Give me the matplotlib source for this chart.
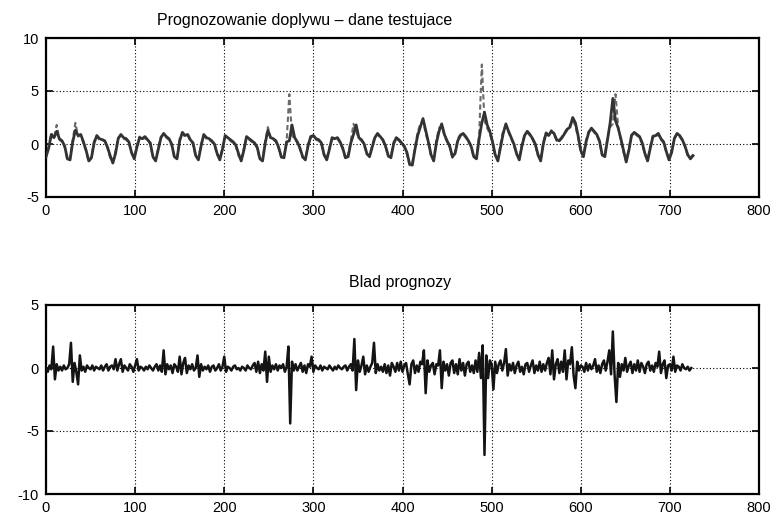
import numpy as np
import matplotlib
matplotlib.use("Agg")
import matplotlib.pyplot as plt

plt.rcParams['font.family'] = ['Liberation Sans', 'DejaVu Sans']
plt.rcParams['axes.unicode_minus'] = False

title_top = "Prognozowanie doplywu \u2013 dane testujace"
title_bottom = "Blad prognozy"

x_ticks = [0, 100, 200, 300, 400, 500, 600, 700, 800]
y_ticks_top = [-5, 0, 5, 10]
y_ticks_bottom = [-10, -5, 0, 5]

# top panel, sampled every 3 steps (x = 0, 3, ..., 726)
step_top = 3
prognoza = [
    -1.2, -0.4, 0.9, 0.6, 1.2, 0.5, 0.3, -0.2,
    -1.4, -1.5, 0.2, 1.3, 0.8, 0.9, 0.2, -0.6,
    -1.6, -1.3, 0.1, 0.8, 0.5, 0.4, 0.3, -0.3,
    -1.1, -1.8, -0.9, 0.5, 0.9, 0.6, 0.5, 0.2,
    -0.8, -1.4, -0.3, 0.6, 0.5, 0.7, 0.4, 0.1,
    -1.2, -1.6, -0.5, 0.6, 1.0, 0.7, 0.5, 0.0,
    -1.2, -1.4, 0.3, 1.1, 0.8, 0.9, 0.4, 0.1,
    -1.1, -1.5, -0.2, 0.9, 0.6, 0.5, 0.3, 0.0,
    -0.9, -1.5, -0.5, 0.8, 0.6, 0.4, 0.2, -0.1,
    -0.9, -1.6, -0.6, 0.7, 0.5, 0.3, 0.1, -0.3,
    -1.4, -1.6, 0.1, 1.3, 0.6, 0.5, 0.3, -0.3,
    -1.2, -1.3, 0.2, 0.3, 1.8, 0.6, 0.2, -0.4,
    -1.2, -1.5, -0.2, 0.7, 0.8, 0.5, 0.4, 0.1,
    -1.0, -1.5, -0.5, 0.6, 0.5, 0.6, 0.2, -0.4,
    -1.3, -1.2, 0.1, 0.9, 1.8, 0.6, 0.4, 0.0,
    -0.9, -1.2, -0.3, 0.6, 1.0, 0.7, 0.4, -0.2,
    -1.1, -1.3, 0.0, 0.6, 0.4, 0.1, -0.2, -0.8,
    -1.9, -2.0, -0.5, 0.8, 1.6, 2.4, 1.3, 0.2,
    -1.0, -1.6, 0.1, 1.2, 1.9, 0.9, 0.3, -0.2,
    -1.2, -0.9, 0.3, 0.8, 1.0, 0.7, 0.3, -0.2,
    -1.2, -1.4, 0.5, 2.0, 3.0, 1.8, 1.2, 0.2,
    -1.0, -1.6, -0.3, 1.0, 1.9, 1.2, 0.6, 0.0,
    -0.9, -1.5, -0.2, 0.8, 1.2, 0.9, 0.5, 0.0,
    -1.0, -1.6, 0.0, 1.0, 0.8, 1.2, 1.0, 0.4,
    0.3, 0.6, 1.0, 1.4, 1.6, 2.5, 2.0, 0.8,
    -0.6, -1.2, 0.2, 1.1, 1.5, 1.2, 0.9, 0.3,
    -1.0, -1.2, 0.4, 2.0, 4.3, 2.2, 1.5, 0.5,
    -0.6, -1.7, -0.6, 0.8, 1.1, 0.9, 0.7, 0.1,
    -0.9, -1.6, -0.4, 0.7, 0.8, 1.0, 0.5, 0.2,
    -0.7, -1.5, -0.8, 0.5, 1.0, 0.8, 0.4, -0.2,
    -1.0, -1.4, -1.1,
]
pomiar = [
    -1.3, -0.2, 1.0, 0.5, 1.8, 0.4, 0.2, -0.3,
    -1.5, -1.3, 0.4, 2.0, 0.7, 0.8, 0.1, -0.7,
    -1.7, -1.2, 0.3, 0.7, 0.4, 0.5, 0.2, -0.4,
    -1.3, -1.7, -0.7, 0.6, 0.8, 0.5, 0.4, 0.1,
    -0.9, -1.3, -0.1, 0.7, 0.4, 0.6, 0.3, 0.0,
    -1.3, -1.5, -0.3, 0.7, 0.9, 0.6, 0.4, -0.1,
    -1.3, -1.3, 0.5, 1.0, 0.7, 0.8, 0.3, 0.0,
    -1.2, -1.4, 0.0, 0.8, 0.5, 0.4, 0.2, -0.1,
    -1.0, -1.4, -0.3, 0.7, 0.5, 0.3, 0.1, -0.2,
    -1.1, -1.5, -0.4, 0.6, 0.4, 0.2, 0.0, -0.4,
    -1.5, -1.5, 0.3, 1.6, 0.5, 0.4, 0.2, -0.4,
    -1.3, -1.2, 0.3, 4.7, 0.8, 0.5, 0.1, -0.5,
    -1.3, -1.4, 0.0, 0.6, 0.7, 0.4, 0.3, 0.0,
    -1.1, -1.4, -0.3, 0.5, 0.4, 0.5, 0.1, -0.5,
    -1.4, -1.0, 0.3, 1.9, 1.2, 0.5, 0.3, -0.1,
    -1.0, -1.1, -0.1, 0.7, 0.9, 0.6, 0.3, -0.3,
    -1.2, -1.2, 0.2, 0.5, 0.3, 0.0, -0.3, -1.0,
    -2.0, -1.8, -0.3, 1.1, 1.9, 2.2, 1.0, 0.1,
    -1.1, -1.5, 0.4, 1.5, 1.7, 0.8, 0.2, -0.3,
    -1.3, -0.8, 0.5, 0.9, 0.9, 0.6, 0.2, -0.3,
    -1.3, -1.2, 0.8, 7.5, 2.2, 1.5, 1.0, 0.1,
    -1.1, -1.5, 0.0, 1.3, 1.7, 1.1, 0.5, -0.1,
    -1.0, -1.4, 0.0, 0.9, 1.1, 0.8, 0.4, -0.1,
    -1.1, -1.5, 0.2, 1.1, 0.9, 1.3, 0.9, 0.3,
    0.4, 0.7, 1.1, 1.5, 1.8, 2.3, 1.7, 0.6,
    -0.8, -1.1, 0.4, 1.2, 1.4, 1.1, 0.8, 0.2,
    -1.1, -1.0, 0.6, 1.6, 1.9, 4.7, 1.6, 0.3,
    -0.8, -1.6, -0.4, 0.9, 1.0, 0.8, 0.6, 0.0,
    -1.0, -1.5, -0.2, 0.8, 0.7, 0.9, 0.4, 0.1,
    -0.8, -1.4, -0.6, 0.6, 0.9, 0.7, 0.3, -0.3,
    -1.1, -1.3, -1.0,
]

# bottom panel, sampled every 2 steps (x = 0, 2, ..., 724)
step_err = 2
blad = [
    0.0, -0.3, 0.2, -0.1, 1.7, -0.9, 0.3, -0.2, 0.1, -0.2,
    0.2, -0.1, 0.0, 0.3, 2.0, -1.1, 0.4, -0.3, -1.3, 1.0,
    -0.2, 0.1, -0.3, 0.2, 0.0, -0.1, 0.2, -0.2, 0.1, 0.0,
    -0.1, 0.2, -0.2, 0.1, 0.3, -0.2, 0.1, 0.2, -0.1, 0.7,
    -0.2, 0.3, 0.7, -0.3, 0.2, 0.0, -0.2, 0.3, 0.1, -0.3,
    0.2, 0.7, -0.2, 0.1, 0.0, -0.2, 0.1, -0.1, 0.2, 0.0,
    -0.2, 0.1, 0.3, -0.2, 0.2, -0.3, 1.4, -0.5, 0.3, -0.1,
    0.2, -0.4, 0.3, 0.1, -0.3, 0.9, -0.5, 0.4, 0.8, -0.4,
    0.2, -0.1, 0.3, -0.2, 0.0, 1.0, -0.7, 0.3, -0.2, 0.1,
    -0.1, 0.2, -0.3, 0.1, 0.2, -0.2, 0.0, 0.3, -0.2, 0.1,
    0.9, -0.3, 0.1, 0.0, -0.2, 0.1, 0.2, -0.1, 0.0, -0.2,
    0.1, 0.0, -0.2, 0.2, 0.0, -0.1, 0.2, 0.4, -0.3, 0.5,
    -0.4, 0.3, -0.2, 1.3, -1.1, 0.9, -0.3, 0.2, -0.1, 0.3,
    -0.2, 0.2, 0.0, 0.3, -0.3, 0.1, 1.7, -4.4, 0.5, -0.2,
    0.3, -0.2, 0.1, 0.4, -0.3, 0.2, -0.4, 0.3, 0.1, 0.9,
    -0.3, 0.2, 0.0, -0.1, 0.2, -0.2, 0.1, 0.0, -0.1, 0.2,
    0.0, -0.2, 0.1, -0.1, 0.2, 0.0, -0.1, 0.1, 0.2, -0.2,
    0.1, 0.3, -0.2, 2.3, -1.75, 0.6, -0.3, 0.2, 0.9, -0.5,
    0.2, -0.3, 0.1, 0.4, 2.0, -0.4, 0.3, -0.2, 0.1, -0.3,
    0.3, -0.4, 0.2, -0.6, 0.4, 0.1, -0.3, 0.4, -0.2, 0.5,
    -0.3, 0.2, 0.4, -0.5, -1.3, 0.3, 0.6, -0.4, 0.2, -0.3,
    0.5, 0.3, 1.4, -2.0, 0.6, -0.3, 0.2, 0.4, -0.5, 0.3,
    0.2, 1.4, -1.6, 0.5, -0.2, 0.3, -0.6, 0.4, 0.6, -0.4,
    0.3, -0.5, 0.7, -0.2, 0.4, -0.6, 0.3, 0.5, -0.3, 0.2,
    -0.4, 0.6, -0.3, 1.2, -0.8, 1.8, -6.9, 1.0, -0.8, 0.6,
    0.3, -1.7, 0.5, -0.4, 0.3, 0.6, -0.2, 0.4, 1.5, -0.6,
    0.3, -0.2, 0.4, -0.4, 0.2, 0.5, -0.3, 0.1, -0.5, 0.3,
    0.4, -0.3, 0.2, 0.6, -0.4, 0.2, -0.2, 0.5, -0.3, 0.3,
    -0.2, 0.4, 0.8, -0.5, 1.4, -0.9, 0.3, 0.7, -0.4, 0.5,
    -0.3, 1.4, -0.9, 0.6, 0.3, 1.65, -0.6, -1.6, 0.5, -0.2,
    0.2, 0.1, -0.3, 0.4, -0.2, 0.3, -0.1, 0.2, 0.7, -0.3,
    0.2, -0.4, 0.3, 0.6, -0.2, 0.5, 1.4, -0.5, 2.9, -0.6,
    -2.7, 0.4, -0.7, 0.3, -0.2, 0.8, -0.3, 0.2, 0.5, -0.4,
    0.3, -0.2, 0.6, -0.3, 0.4, 0.1, -0.4, 0.3, 0.5, -0.2,
    0.2, -0.3, 0.4, 0.1, 1.3, -0.4, 0.3, 0.6, -0.8, 0.2,
    0.3, -0.2, 0.9, -0.3, 0.2, 0.1, -0.2, 0.3, 0.0, -0.1,
    0.1, -0.2, 0.0,
]

x_top = np.arange(len(prognoza)) * step_top
x_err = np.arange(len(blad)) * step_err

W, H = 778, 520
fig = plt.figure(figsize=(W / 100, H / 100), dpi=100)

def frac(l, t, r, b):
    return [l / W, 1 - b / H, (r - l) / W, (b - t) / H]

ax1 = fig.add_axes(frac(46, 38, 759, 197))
ax2 = fig.add_axes(frac(46, 305, 759, 494))

ax1.plot(x_top, pomiar, color='#6a6a6a', lw=1.5, ls=(0, (2.5, 1.5)), zorder=3)
ax1.plot(x_top, prognoza, color='#333333', lw=2.0, zorder=4)
ax2.plot(x_err, blad, color='#141414', lw=1.8, zorder=4)

for ax, yl, yt in ((ax1, (-5, 10), y_ticks_top), (ax2, (-10, 5), y_ticks_bottom)):
    ax.set_xlim(0, 800)
    ax.set_ylim(*yl)
    ax.set_xticks(x_ticks)
    ax.set_yticks(yt)
    ax.tick_params(direction='in', length=5, width=1.2, labelsize=10.5,
                   top=True, right=True, pad=5, colors='black')
    ax.grid(True, color='black', ls=(0, (1, 2)), lw=0.8)
    for s in ax.spines.values():
        s.set_linewidth(1.6)
        s.set_color('black')

fig.text(305 / W, 1 - 20 / H, title_top, ha='center', va='center', fontsize=11.5)
fig.text(400 / W, 1 - 283 / H, title_bottom, ha='center', va='center', fontsize=11.5)

fig.savefig('out.png', dpi=100)
